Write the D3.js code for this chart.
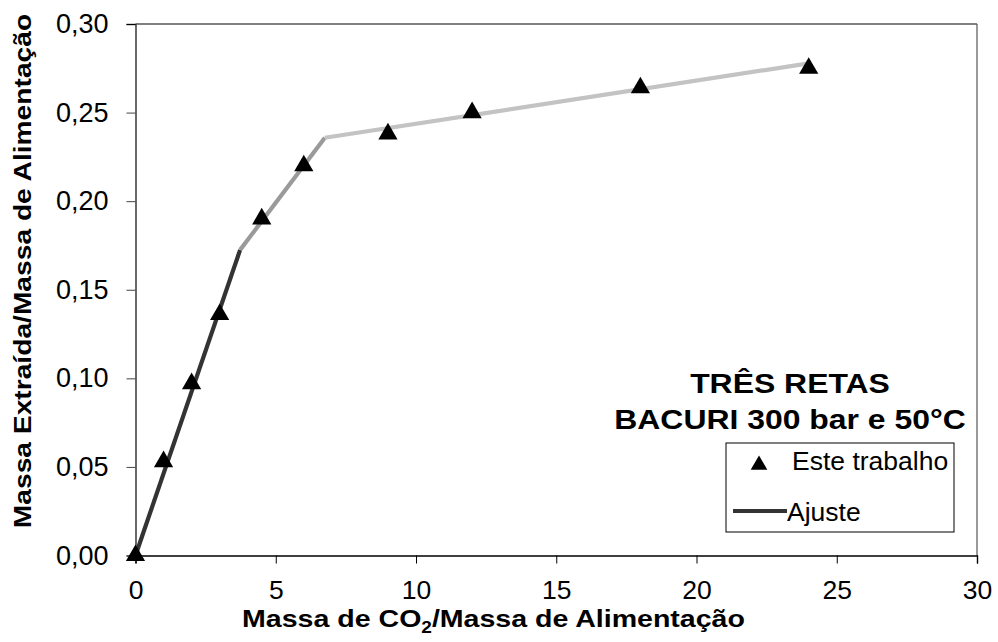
<!DOCTYPE html>
<html>
<head>
<meta charset="utf-8">
<script src="https://cdn.jsdelivr.net/npm/d3@7"></script>
<style>
  html, body { margin: 0; padding: 0; background: #fff; }
  svg { display: block; font-family: "Liberation Sans", Arial, sans-serif; }
</style>
</head>
<body>
<svg id="chart" width="998" height="642"></svg>
<script>
// Experimental points: mass of CO2 per feed mass vs. extracted mass per feed mass
const solventRatio = [0, 1, 2, 3, 4.5, 6, 9, 12, 18, 24];
const extractedRatio = [0, 0.053, 0.097, 0.136, 0.190, 0.220, 0.238, 0.250, 0.264, 0.275];

// Three-line fit: breakpoints of each straight segment
const fitX = [0, 3.73, 6.75, 24];
const fitY = [0, 0.1725, 0.2358, 0.2778];
const fitColors = ["#333333", "#9a9a9a", "#c3c3c3"];

const xTicks = [0, 5, 10, 15, 20, 25, 30];
const yTicks = [0, 0.05, 0.10, 0.15, 0.20, 0.25, 0.30];

const svg = d3.select("#chart");
const m = { left: 135.5, right: 977, top: 24, bottom: 555.5 };
const FONT = "Liberation Sans, Arial, sans-serif";

const x = d3.scaleLinear().domain([0, 30]).range([m.left, m.right]);
const y = d3.scaleLinear().domain([0, 0.30]).range([m.bottom, m.top]);
const fmtY = v => d3.format(".2f")(v).replace(".", ",");

// Frame: top and right edges
svg.append("line").attr("x1", m.left).attr("x2", m.right).attr("y1", m.top).attr("y2", m.top)
  .attr("stroke", "#000").attr("stroke-width", 1.2);
svg.append("line").attr("x1", m.right).attr("x2", m.right).attr("y1", m.top).attr("y2", m.bottom)
  .attr("stroke", "#555").attr("stroke-width", 1.2);

// Axes
const xAxis = svg.append("g").attr("transform", `translate(0,${m.bottom})`)
  .call(d3.axisBottom(x).tickValues(xTicks).tickSize(8).tickPadding(17).tickFormat(d3.format("d")));
xAxis.select(".domain").attr("stroke", "#000").attr("stroke-width", 1.4);
xAxis.selectAll(".tick line").attr("stroke", "#000").attr("stroke-width", 1);
xAxis.selectAll(".tick text").attr("font-size", 26.5).attr("fill", "#000").attr("font-family", FONT);

const yAxis = svg.append("g").attr("transform", `translate(${m.left},0)`)
  .call(d3.axisLeft(y).tickValues(yTicks).tickSize(9).tickPadding(18).tickFormat(fmtY));
yAxis.select(".domain").attr("stroke", "#444").attr("stroke-width", 1.6);
yAxis.selectAll(".tick line").attr("stroke", "#444").attr("stroke-width", 1);
yAxis.selectAll(".tick text").attr("font-size", 27).attr("fill", "#000").attr("font-family", FONT);
yAxis.selectAll(".tick").filter(d => d === 0.30).select("line").attr("stroke", "#000");

// Fitted line segments
for (let i = 0; i < fitX.length - 1; i++) {
  svg.append("line")
    .attr("x1", x(fitX[i])).attr("y1", y(fitY[i]))
    .attr("x2", x(fitX[i + 1])).attr("y2", y(fitY[i + 1]))
    .attr("stroke", fitColors[i]).attr("stroke-width", 4.2);
}

// Data markers
const tri = d3.symbol().type(d3.symbolTriangle).size(160);
svg.append("g").selectAll("path").data(solventRatio).join("path")
  .attr("d", tri)
  .attr("transform", (d, i) => `translate(${x(d)},${y(extractedRatio[i])})`)
  .attr("fill", "#000");

// Axis titles (bold type is drawn slightly widened)
const xt = svg.append("text").attr("transform", "translate(493.5,627) scale(1.19,1)")
  .attr("text-anchor", "middle").attr("font-size", 24).attr("font-weight", "bold");
xt.append("tspan").text("Massa de CO");
xt.append("tspan").text("2").attr("font-size", 16).attr("dy", 6);
xt.append("tspan").text("/Massa de Alimentação").attr("dy", -6);

svg.append("text").attr("transform", "translate(31,271) rotate(-90) scale(1.2,1)")
  .attr("text-anchor", "middle").attr("font-size", 23.5).attr("font-weight", "bold")
  .text("Massa Extraída/Massa de Alimentação");

// Annotation
svg.append("text").attr("transform", "translate(790,393) scale(1.14,1)").attr("text-anchor", "middle")
  .attr("font-size", 28).attr("font-weight", "bold").text("TRÊS RETAS");
svg.append("text").attr("transform", "translate(790,429) scale(1.14,1)").attr("text-anchor", "middle")
  .attr("font-size", 28).attr("font-weight", "bold").text("BACURI 300 bar e 50°C");

// Legend
const lg = svg.append("g");
lg.append("rect").attr("x", 726).attr("y", 443).attr("width", 228).attr("height", 89)
  .attr("fill", "#fff").attr("stroke", "#000").attr("stroke-width", 1);
lg.append("path").attr("d", d3.symbol().type(d3.symbolTriangle).size(120))
  .attr("transform", "translate(759,465)").attr("fill", "#000");
lg.append("text").attr("x", 792).attr("y", 470).attr("font-size", 26.5).text("Este trabalho");
lg.append("line").attr("x1", 733).attr("x2", 787).attr("y1", 511).attr("y2", 511)
  .attr("stroke", "#333").attr("stroke-width", 4);
lg.append("text").attr("x", 787).attr("y", 521).attr("font-size", 26.5).text("Ajuste");
</script>
</body>
</html>
